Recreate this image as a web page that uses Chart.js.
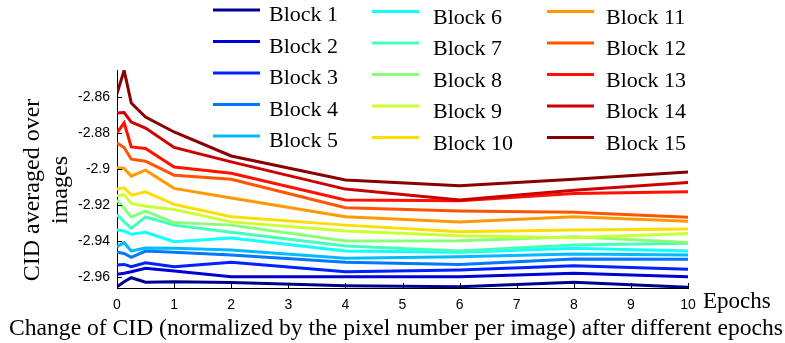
<!DOCTYPE html>
<html><head><meta charset="utf-8">
<script src="https://cdn.jsdelivr.net/npm/chart.js@4"></script>
<style>html,body{margin:0;padding:0;background:#fff;overflow:hidden}#wrap{width:785px;height:343px}</style>
</head><body><div id="wrap"><canvas id="c" width="785" height="343"></canvas></div>
<script>
// ---- data ----
const epochs = [0, 0.125, 0.25, 0.5, 1, 2, 4, 6, 8, 10];
const block1  = [-2.9653, -2.9625, -2.9603, -2.9628, -2.9625, -2.9630, -2.9647, -2.9653, -2.9628, -2.9656];
const block2  = [-2.9584, -2.9578, -2.9570, -2.9551, -2.9566, -2.9597, -2.9597, -2.9597, -2.9578, -2.9597];
const block3  = [-2.9532, -2.9529, -2.9542, -2.9520, -2.9542, -2.9517, -2.9570, -2.9560, -2.9536, -2.9556];
const block4  = [-2.9462, -2.9468, -2.9490, -2.9455, -2.9462, -2.9477, -2.9517, -2.9529, -2.9499, -2.9501];
const block5  = [-2.9431, -2.9409, -2.9455, -2.9438, -2.9440, -2.9449, -2.9495, -2.9486, -2.9471, -2.9477];
const block6  = [-2.9338, -2.9344, -2.9362, -2.9351, -2.9403, -2.9383, -2.9455, -2.9462, -2.9440, -2.9455];
const block7  = [-2.9252, -2.9293, -2.9329, -2.9266, -2.9311, -2.9350, -2.9427, -2.9455, -2.9422, -2.9412];
const block8  = [-2.9172, -2.9217, -2.9265, -2.9233, -2.9297, -2.9311, -2.9399, -2.9398, -2.9376, -2.9407];
const block9  = [-2.9148, -2.9142, -2.9191, -2.9206, -2.9224, -2.9293, -2.9344, -2.9370, -2.9381, -2.9357];
const block10 = [-2.9111, -2.9104, -2.9145, -2.9126, -2.9196, -2.9265, -2.9311, -2.9348, -2.9338, -2.9333];
const block11 = [-2.8993, -2.8997, -2.9039, -2.9006, -2.9107, -2.9160, -2.9265, -2.9293, -2.9265, -2.9289];
const block12 = [-2.8855, -2.8880, -2.8945, -2.8956, -2.9034, -2.9056, -2.9215, -2.9233, -2.9240, -2.9268];
const block13 = [-2.8799, -2.8744, -2.8877, -2.8886, -2.8988, -2.9023, -2.9172, -2.9176, -2.9135, -2.9126];
const block14 = [-2.8689, -2.8686, -2.8739, -2.8772, -2.8880, -2.8960, -2.9111, -2.9172, -2.9117, -2.9074];
const block15 = [-2.8581, -2.8452, -2.8633, -2.8711, -2.8794, -2.8927, -2.9061, -2.9093, -2.9056, -2.9016];
const seriesValues = [block1, block2, block3, block4, block5, block6, block7, block8, block9, block10, block11, block12, block13, block14, block15];
const seriesNames = ['Block 1','Block 2','Block 3','Block 4','Block 5','Block 6','Block 7','Block 8','Block 9','Block 10','Block 11','Block 12','Block 13','Block 14','Block 15'];
const seriesColors = ['#00008F','#0000D5','#0022FF','#0077FF','#00BBFF','#11FFFF','#44FFBB','#88FF77','#CCFF33','#FFDD00','#FF9900','#FF5500','#FF1100','#CC0000','#880000'];
const xTickValues = [0,1,2,3,4,5,6,7,8,9,10];
const xTickLabels = ['0','1','2','3','4','5','6','7','8','9','10'];
const yTickValues = [-2.96,-2.94,-2.92,-2.9,-2.88,-2.86];
const yTickLabels = ['-2.96','-2.94','-2.92','-2.9','-2.88','-2.86'];
const yTitle = ['CID averaged over','images'];
const xUnit = 'Epochs';
const caption = 'Change of CID (normalized by the pixel number per image) after different epochs';

// ---- chart ----
const SERIF = '"Liberation Serif","Times New Roman",serif';
const SANS = '"Liberation Sans",Arial,sans-serif';

const datasets = seriesValues.map((vals, i) => ({
  label: seriesNames[i],
  data: epochs.map((x, j) => ({x: x, y: vals[j]})),
  borderColor: seriesColors[i],
  backgroundColor: seriesColors[i],
  borderWidth: 3,
  pointRadius: 0,
  tension: 0,
  fill: false,
  order: seriesValues.length - i
}));

const decor = {
  id: 'decor',
  afterDraw(chart) {
    const ctx = chart.ctx;
    const a = chart.chartArea;
    const xs = chart.scales.x, ys = chart.scales.y;
    ctx.save();
    // inward tick marks
    ctx.strokeStyle = '#000';
    ctx.lineWidth = 1;
    xTickValues.forEach(v => {
      const px = Math.round(xs.getPixelForValue(v)) + 0.5;
      ctx.beginPath(); ctx.moveTo(px, a.bottom); ctx.lineTo(px, a.bottom - 5); ctx.stroke();
    });
    yTickValues.forEach(v => {
      const py = Math.round(ys.getPixelForValue(v)) + 0.5;
      ctx.beginPath(); ctx.moveTo(a.left, py); ctx.lineTo(a.left + 5, py); ctx.stroke();
    });
    // legend (3 columns, column-major)
    const colMarkX = [213, 372, 547];
    const colTextX = [269, 433, 606];
    const rowY = [10, 41.5, 73, 104.5, 136];
    ctx.font = '22px ' + SERIF;
    ctx.fillStyle = '#000';
    ctx.textAlign = 'left';
    ctx.textBaseline = 'alphabetic';
    chart.data.datasets.forEach((ds, i) => {
      const c = Math.floor(i / 5), r = i % 5;
      const y = rowY[r] + (c > 0 ? 1.5 : 0);
      ctx.strokeStyle = ds.borderColor;
      ctx.lineWidth = 3;
      ctx.beginPath(); ctx.moveTo(colMarkX[c], y); ctx.lineTo(colMarkX[c] + 47, y); ctx.stroke();
      ctx.fillText(ds.label, colTextX[c], y + 11 + (c > 0 ? 1 : 0));
    });
    // y title
    ctx.font = '24px ' + SERIF;
    ctx.textAlign = 'center';
    ctx.textBaseline = 'middle';
    const yc = 190;
    [33, 61].forEach((x, k) => {
      ctx.save(); ctx.translate(x, yc); ctx.rotate(-Math.PI / 2);
      ctx.fillText(yTitle[k], 0, 0); ctx.restore();
    });
    // x unit label
    ctx.font = '23px ' + SERIF;
    ctx.textAlign = 'left';
    ctx.textBaseline = 'alphabetic';
    ctx.fillText(xUnit, a.right + 15, 308);
    // caption
    ctx.font = '23.6px ' + SERIF;
    ctx.textAlign = 'center';
    ctx.fillText(caption, 396, 335);
    ctx.restore();
  }
};

new Chart(document.getElementById('c'), {
  type: 'line',
  data: { datasets: datasets },
  options: {
    responsive: false,
    animation: false,
    devicePixelRatio: 1,
    layout: { padding: { left: 0, right: 97, top: 70, bottom: 0 } },
    plugins: { legend: { display: false }, tooltip: { enabled: false }, title: { display: false } },
    scales: {
      x: {
        type: 'linear', min: 0, max: 10,
        afterBuildTicks: s => { s.ticks = xTickValues.map(v => ({value: v})); },
        afterFit: s => { s.height = 55; },
        grid: { display: false, drawTicks: false },
        border: { display: true, color: '#000', width: 1 },
        ticks: { color: '#000', font: { family: SANS, size: 14 }, padding: 9, maxRotation: 0,
                 callback: (v, i) => xTickLabels[i] }
      },
      y: {
        type: 'linear', min: -2.966, max: -2.845,
        afterBuildTicks: s => { s.ticks = yTickValues.map(v => ({value: v})); },
        afterFit: s => { s.width = 117; },
        grid: { display: false, drawTicks: false },
        border: { display: true, color: '#000', width: 1 },
        ticks: { color: '#000', font: { family: SANS, size: 14 }, padding: 7,
                 callback: (v, i) => yTickLabels[i] }
      }
    }
  },
  plugins: [decor]
});
</script></body></html>
